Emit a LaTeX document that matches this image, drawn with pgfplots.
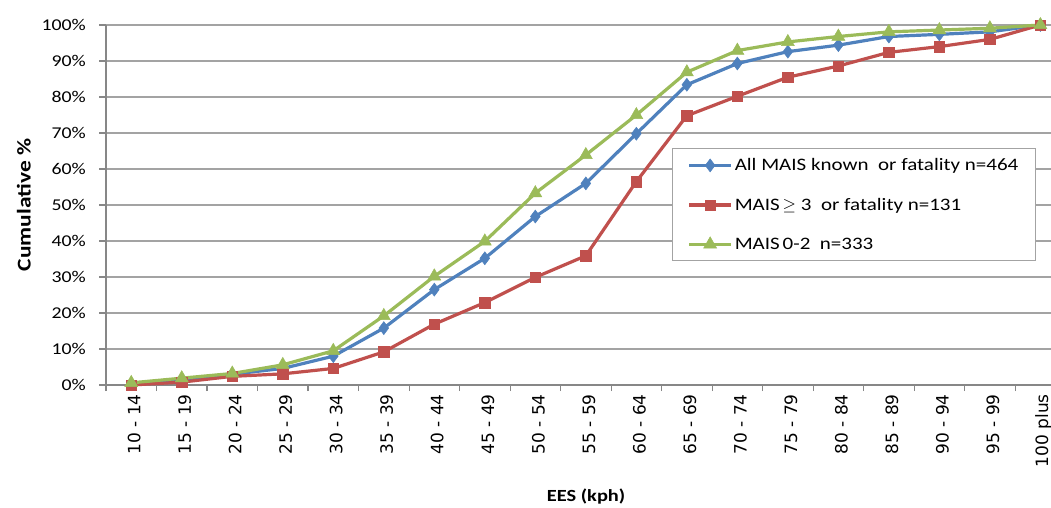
\documentclass[border=0pt]{standalone}
\usepackage{pgfplots}
\pgfplotsset{compat=1.18}
\usepackage{fontspec}
\setmainfont{Carlito}[FakeStretch=1.2]
\newfontfamily\tickfont{DejaVu Sans}

\definecolor{serBlue}{HTML}{4F81BD}
\definecolor{serRed}{HTML}{C0504D}
\definecolor{serGreen}{HTML}{9BBB59}
\definecolor{gridGray}{HTML}{A3A3A3}
\definecolor{axisGray}{HTML}{878787}

\begin{document}
\begin{tikzpicture}
\begin{axis}[
  scale only axis,
  width=945pt, height=360pt,
  xmin=-0.5, xmax=18.21,
  ymin=0, ymax=100,
  clip=false,
  axis x line*=bottom, axis y line*=left,
  axis line style={draw=axisGray, line width=1.2pt, -},
  tick align=outside,
  major tick length=7pt, minor tick length=6pt,
  tick style={draw=axisGray, line width=1.1pt},
  major x tick style={draw=none},
  xtick={0,...,18},
  minor xtick={-0.5,0.5,...,17.5},
  xticklabels={10 - 14,15 - 19,20 - 24,25 - 29,30 - 34,35 - 39,40 - 44,45 - 49,50 - 54,55 - 59,60 - 64,65 - 69,70 - 74,75 - 79,80 - 84,85 - 89,90 - 94,95 - 99,100 plus},
  x tick label style={rotate=90, anchor=east, font=\tickfont\fontsize{17}{17}\selectfont, inner sep=2pt, yshift=-3pt},
  ytick={0,10,...,100},
  /pgf/number format/assume math mode=true,
  yticklabel={\pgfmathprintnumber{\tick}\%},
  y tick label style={font=\fontsize{16.5}{17}\selectfont, inner sep=0pt, xshift=-13pt},
  ymajorgrids,
  grid style={draw=gridGray, line width=1.1pt},
  xlabel={EES (kph)},
  xlabel style={at={(axis description cs:0.508,-0.311)}, anchor=center, font=\bfseries\fontsize{17}{18}\selectfont},
  ylabel={Cumulative \%},
  ylabel style={at={(axis description cs:-0.0868,0.5)}, anchor=center, rotate=0, font=\bfseries\fontsize{19.5}{20}\selectfont},
  legend style={at={(rel axis cs:0.599,0.658)}, anchor=north west,
    draw=gridGray, line width=1pt, fill=white,
    font=\fontsize{17.5}{20}\selectfont,
    row sep=22pt, inner xsep=15pt, inner ysep=8pt},
  legend cell align=left,
  legend image code/.code={\draw[mark repeat=2,mark phase=2] plot coordinates {(0pt,0pt) (21pt,0pt) (42pt,0pt)};},
]

% all cases
\addplot[color=serBlue, line width=3.2pt, mark=diamond*, mark size=6.5pt,
  mark options={solid, fill=serBlue, line width=0.5pt}] coordinates {
  (0,0.3) (1,1.5) (2,3.0) (3,4.6) (4,8.0) (5,15.8) (6,26.5) (7,35.2) (8,46.8)
  (9,56.0) (10,69.8) (11,83.4) (12,89.3) (13,92.6) (14,94.4) (15,96.8)
  (16,97.4) (17,98.1) (18,100)};
\addlegendentry{All MAIS known\ \ or fatality n=464}

% serious injuries and fatalities
\addplot[color=serRed, line width=3.2pt, mark=square*, mark size=5.2pt,
  mark options={solid, fill=serRed, line width=0.5pt}] coordinates {
  (0,0.0) (1,0.8) (2,2.4) (3,3.1) (4,4.6) (5,9.2) (6,16.9) (7,22.9) (8,29.9)
  (9,35.9) (10,56.5) (11,74.8) (12,80.2) (13,85.5) (14,88.6) (15,92.4)
  (16,94.0) (17,96.0) (18,100)};
\addlegendentry{MAIS\,$\geq$ 3\ \ or fatality n=131}

% minor injuries
\addplot[color=serGreen, line width=3.2pt, mark=triangle*, mark size=7.5pt,
  mark options={solid, fill=serGreen, line width=0.5pt}] coordinates {
  (0,0.6) (1,1.9) (2,3.2) (3,5.6) (4,9.5) (5,19.2) (6,30.2) (7,39.9) (8,53.3)
  (9,63.9) (10,75.0) (11,86.9) (12,92.9) (13,95.3) (14,96.8) (15,98.1)
  (16,98.6) (17,99.1) (18,100)};
\addlegendentry{MAIS\,0-2\ \ n=333}
\end{axis}
\pgfresetboundingbox
\path[use as bounding box] ([xshift=-106pt,yshift=-123pt]current axis.south west) rectangle ([yshift=25pt]current axis.north east);
\end{tikzpicture}
\end{document}
